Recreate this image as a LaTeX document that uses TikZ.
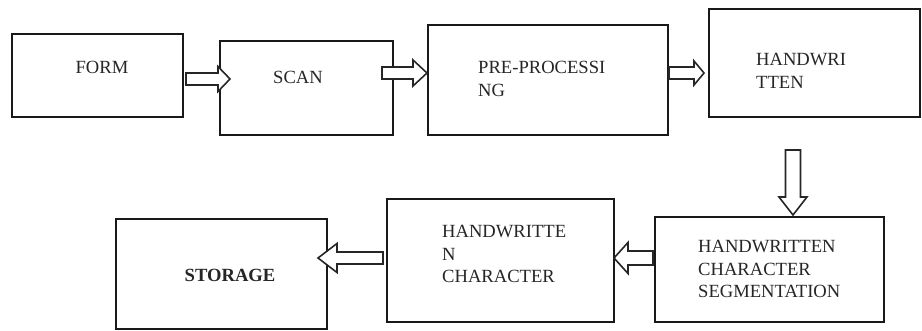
\documentclass[tikz,border=0pt]{standalone}
\usepackage{fontspec}
\setmainfont{Liberation Serif}
\usetikzlibrary{calc}
\tikzset{
  box/.style={draw=black!90, line width=1.4pt, inner sep=0pt, outer sep=0pt, fill=white},
  lbl/.style={inner sep=0pt, text=black!85, font=\fontsize{18.6}{22.5}\selectfont},
  blockarrow/.style={draw=black!85, line width=1.6pt, fill=white, line join=miter},
}
\newcommand\blkarrow[6]{%
  \coordinate (#6-c) at ($(#2)!#5!(#1)$);
  \draw[blockarrow] ($(#1)!#3!90:(#2)$) -- ($(#6-c)!#3!90:(#2)$) -- ($(#6-c)!#4!90:(#2)$) -- (#2)
    -- ($(#6-c)!#4!-90:(#2)$) -- ($(#6-c)!#3!-90:(#2)$) -- ($(#1)!#3!-90:(#2)$) -- cycle;}
\begin{document}
\begin{tikzpicture}[x=1pt,y=-1pt]
\useasboundingbox[fill=white] (0,0) rectangle (922,331);
% boxes
\node[box, minimum width=171pt, minimum height=83pt] (form) at (97.5,75.5) {};
\node[box, minimum width=173pt, minimum height=94pt] (scan) at (306.5,88) {};
\node[box, minimum width=240pt, minimum height=110pt] (pre) at (548,80) {};
\node[box, minimum width=211pt, minimum height=108pt] (hand) at (814.5,63) {};
\node[box, minimum width=229pt, minimum height=105pt] (seg) at (769.5,269.5) {};
\node[box, minimum width=227pt, minimum height=123pt] (hchar) at (500.5,260.5) {};
\node[box, minimum width=211pt, minimum height=110pt] (storage) at (221.5,274) {};
% texts
\node[lbl, anchor=base] (formtxt) at (102,74) {FORM};
\node[lbl, anchor=base] (scantxt) at (298,83.5) {SCAN};
\node[lbl, anchor=base west] (pretxt) at (478,74) {\begin{tabular}[t]{@{}l@{}}PRE-PROCESSI\\NG\end{tabular}};
\node[lbl, anchor=base west] (handtxt) at (756,66) {\begin{tabular}[t]{@{}l@{}}HANDWRI\\TTEN\end{tabular}};
\node[lbl, anchor=base west] (segtxt) at (698,253) {\begin{tabular}[t]{@{}l@{}}HANDWRITTEN\\CHARACTER\\SEGMENTATION\end{tabular}};
\node[lbl, anchor=base west] (hchartxt) at (442,238) {\begin{tabular}[t]{@{}l@{}}HANDWRITTE\\N\\CHARACTER\end{tabular}};
\node[lbl, anchor=base, font=\fontsize{18.6}{22.5}\selectfont\bfseries] (storagetxt) at (230,282) {STORAGE};
% arrows
\coordinate (a1s) at (186,79);  \coordinate (a1e) at (230,79);
\coordinate (a2s) at (382,73);  \coordinate (a2e) at (427,73);
\coordinate (a3s) at (669,73);  \coordinate (a3e) at (704,73);
\coordinate (a4s) at (793,150); \coordinate (a4e) at (793,215);
\coordinate (a5s) at (653,258); \coordinate (a5e) at (614,258);
\coordinate (a6s) at (383,258); \coordinate (a6e) at (318,258);
\blkarrow{a1s}{a1e}{6pt}{12.5pt}{12pt}{ar1}
\blkarrow{a2s}{a2e}{6pt}{13pt}{14pt}{ar2}
\blkarrow{a3s}{a3e}{6pt}{12pt}{10pt}{ar3}
\blkarrow{a4s}{a4e}{7.5pt}{14pt}{18pt}{ar4}
\blkarrow{a5s}{a5e}{7pt}{15.5pt}{14pt}{ar5}
\blkarrow{a6s}{a6e}{6pt}{14.5pt}{19pt}{ar6}
\end{tikzpicture}
\end{document}
